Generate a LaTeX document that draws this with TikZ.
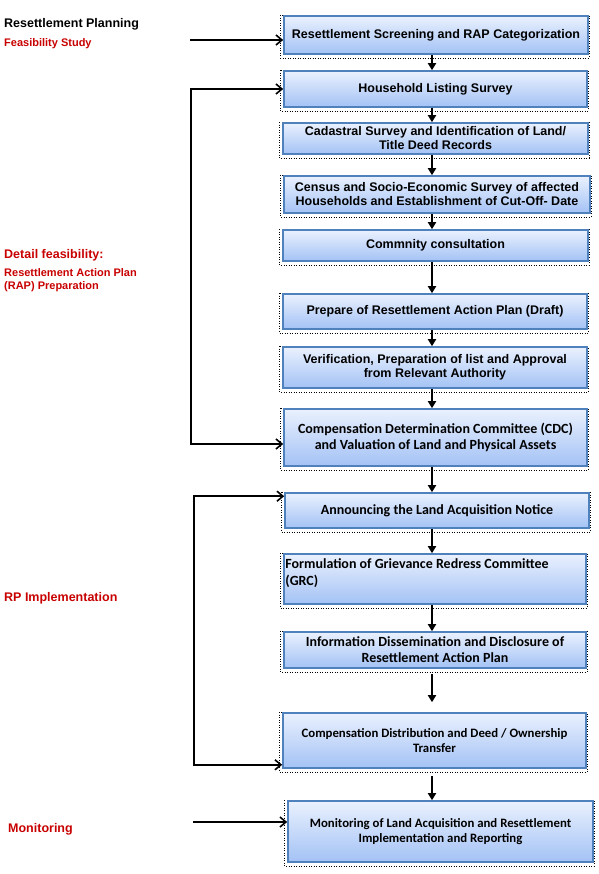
\documentclass[tikz,border=0pt]{standalone}
\usepackage{fontspec}
\setmainfont{Liberation Sans}
\newfontfamily\calibri{Carlito}
\usetikzlibrary{arrows.meta,backgrounds}
\definecolor{boxline}{RGB}{79,129,189}
\definecolor{boxtop}{RGB}{234,241,254}
\definecolor{boxbot}{RGB}{163,194,245}
\definecolor{stagered}{RGB}{200,0,0}

\begin{document}
\begin{tikzpicture}[x=1pt,y=-1pt]
\tikzstyle{stage}=[draw=boxline, line width=1.6pt, top color=boxtop, bottom color=boxbot, inner sep=0pt, align=center, font=\bfseries\fontsize{12.5}{14}\selectfont]
\tikzstyle{stagec}=[stage, font=\calibri\bfseries\fontsize{14}{16}\selectfont]
\tikzstyle{phase}=[anchor=base west, inner sep=0pt, text=stagered, font=\bfseries\fontsize{12.5}{15}\selectfont]
\tikzstyle{flow}=[-{Triangle[length=7pt,width=8pt]}, line width=1.8pt]
\tikzstyle{feed}=[-{Straight Barb[length=6pt,width=10pt]}, line width=1.6pt]
\tikzstyle{feedd}=[{Straight Barb[length=6pt,width=10pt]}-{Straight Barb[length=6pt,width=10pt]}, line width=1.6pt]
\useasboundingbox (0,0) rectangle (598,874);
% phase labels
\node[phase, text=black] (rp) at (4,28) {Resettlement Planning};
\node[phase, font=\bfseries\fontsize{11}{12}\selectfont] (fsl) at (4,46.5) {Feasibility Study};
\node[phase] (df) at (4,258.5) {Detail feasibility:};
\node[phase, font=\bfseries\fontsize{11}{12}\selectfont] (rapa) at (4,276.7) {Resettlement Action Plan};
\node[phase, font=\bfseries\fontsize{11}{12}\selectfont] (rapb) at (4,289) {(RAP) Preparation};
\node[phase] (rpi) at (4,601) {RP Implementation};
\node[phase] (mo) at (8,832) {Monitoring};
% steps
\foreach \n/\x/\y/\w/\h/\t in {
	n1/436/35/304/38/{Resettlement Screening and RAP Categorization},
	n2/435.5/89/303/36/{Household Listing Survey},
	n3/435.5/138.5/305/31/{Cadastral Survey and Identification of Land/\\Title Deed Records},
	n4/437/194.5/306/37/{Census and Socio-Economic Survey of affected\\Households and Establishment of Cut-Off- Date},
	n5/435.5/245.5/305/31/{Commnity consultation},
	n6/435/311.5/304/35/{Prepare of Resettlement Action Plan (Draft)},
	n7/435/367.5/304/41/{Verification, Preparation of list and Approval\\from Relevant Authority}}
	\node[stage, minimum width=\w, minimum height=\h] (\n) at (\x,\y) {\t};
\foreach \n/\x/\y/\w/\h/\t in {
	n8/435.5/437.5/303/57/{Compensation Determination Committee (CDC)\\and Valuation of Land and Physical Assets},
	n9/437/510.5/304/35/{Announcing the Land Acquisition Notice},
	n11/435/650/302/36/{Information Dissemination and Disclosure of\\Resettlement Action Plan}}
	\node[stagec, minimum width=\w, minimum height=\h] (\n) at (\x,\y) {\t};
\foreach \n/\x/\y/\w/\h/\t in {
	n12/434.5/740.5/303/55/{Compensation Distribution and Deed / Ownership\\Transfer},
	n13/440.5/831.5/305/61/{Monitoring of Land Acquisition and Resettlement\\Implementation and Reporting}}
	\node[stagec, font=\calibri\bfseries\fontsize{12.8}{15}\selectfont, minimum width=\w, minimum height=\h] (\n) at (\x,\y) {\t};
\node[stagec, minimum width=302, minimum height=50,
	label={[anchor=north west, align=left, inner sep=0pt, xshift=2pt, yshift=-5pt, font=\calibri\bfseries\fontsize{14}{17}\selectfont]north west:Formulation of Grievance Redress Committee\\(GRC)}] (n10) at (435,579) {};
\begin{pgfonlayer}{background}
\foreach \n in {n1,n2,n3,n4,n5,n6,n7,n8,n9,n10,n11,n12,n13}
	\draw[dotted, line width=0.5pt] ([xshift=-3pt]\n.north west) rectangle ([yshift=-3pt]\n.south east);
\end{pgfonlayer}
% flow down the steps
\coordinate (axis) at (432,0);
\foreach \a/\b in {n1/n2,n2/n3,n3/n4,n4/n5,n5/n6,n6/n7,n7/n8,n8/n9,n9/n10,n10/n11}
	\draw[flow] (\a.south -| axis) -- (\b.north -| axis);
\draw[flow, shorten <=5pt, shorten >=10pt] (n11.south -| axis) -- (n12.north -| axis);
\draw[flow, shorten <=7pt] (n12.south -| axis) -- (n13.north -| axis);
% side connectors
\coordinate (fs) at (190,40);
\coordinate (mon) at (193,822);
\draw[feed] (fs) -- (fs -| n1.west);
\draw[feedd] (n2.west) -- ++(-92,0) |- ([yshift=-6.5pt]n8.west);
\draw[feedd] ([yshift=-4pt]n9.north west) -- ++(-90,0) |- ([yshift=4pt]n12.south west);
\draw[feed] (mon) -- (mon -| n13.west);
\end{tikzpicture}
\end{document}
